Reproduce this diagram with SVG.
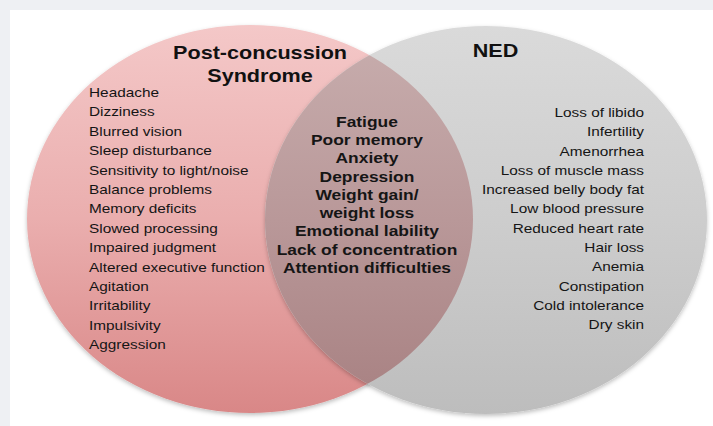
<svg xmlns="http://www.w3.org/2000/svg" width="713" height="426" viewBox="0 0 713 426">
<defs>
<linearGradient id="gPink" x1="0" y1="0" x2="0" y2="1">
<stop offset="0" stop-color="#f4c8c8"/>
<stop offset="0.5" stop-color="#eaaeae"/>
<stop offset="1" stop-color="#d98787"/>
</linearGradient>
<linearGradient id="gGray" x1="0" y1="0" x2="0" y2="1">
<stop offset="0" stop-color="#dadada"/>
<stop offset="0.5" stop-color="#cdcdcd"/>
<stop offset="1" stop-color="#bdbdbd"/>
</linearGradient>
<linearGradient id="gMix" x1="0" y1="0" x2="0" y2="1">
<stop offset="0" stop-color="#c8aeae"/>
<stop offset="0.5" stop-color="#b99899"/>
<stop offset="1" stop-color="#a78081"/>
</linearGradient>
<clipPath id="clipLeft">
<ellipse cx="250" cy="219" rx="223" ry="194"/>
</clipPath>
<filter id="shadow" x="-10%" y="-10%" width="120%" height="120%">
<feDropShadow dx="0" dy="2" stdDeviation="2" flood-color="#000" flood-opacity="0.25"/>
</filter>
</defs>
<style>
.list{font-family:"Liberation Sans",Arial,sans-serif;font-size:12.8px;fill:#151515}
.mid{font-family:"Liberation Sans",Arial,sans-serif;font-size:14.5px;font-weight:bold;fill:#151515;text-anchor:middle}
.title{font-family:"Liberation Sans",Arial,sans-serif;font-size:18px;font-weight:bold;fill:#111;text-anchor:middle}
.rt{text-anchor:end}
</style>
<rect x="0" y="0" width="713" height="426" fill="#eef0f3"/>
<rect x="10" y="10" width="703" height="416" fill="#ffffff"/>

<g id="pcs">
<ellipse cx="250" cy="219" rx="223" ry="194" fill="url(#gPink)" filter="url(#shadow)"/>
<g transform="scale(1.2,1)">
<text class="title" x="216.7" y="59">Post-concussion</text>
<text class="title" x="216.7" y="82">Syndrome</text>
<text class="list" x="74.2" y="97">Headache</text>
<text class="list" x="74.2" y="116.4">Dizziness</text>
<text class="list" x="74.2" y="135.8">Blurred vision</text>
<text class="list" x="74.2" y="155.2">Sleep disturbance</text>
<text class="list" x="74.2" y="174.6">Sensitivity to light/noise</text>
<text class="list" x="74.2" y="194">Balance problems</text>
<text class="list" x="74.2" y="213.4">Memory deficits</text>
<text class="list" x="74.2" y="232.8">Slowed processing</text>
<text class="list" x="74.2" y="252.2">Impaired judgment</text>
<text class="list" x="74.2" y="271.6">Altered executive function</text>
<text class="list" x="74.2" y="291">Agitation</text>
<text class="list" x="74.2" y="310.4">Irritability</text>
<text class="list" x="74.2" y="329.8">Impulsivity</text>
<text class="list" x="74.2" y="349.2">Aggression</text>
</g>
</g>

<g id="ned">
<ellipse cx="486" cy="220" rx="221" ry="194" fill="url(#gGray)" filter="url(#shadow)"/>
<g transform="scale(1.2,1)">
<text class="title" x="412.9" y="57">NED</text>
<text class="list rt" x="536.7" y="117">Loss of libido</text>
<text class="list rt" x="536.7" y="136.3">Infertility</text>
<text class="list rt" x="536.7" y="155.6">Amenorrhea</text>
<text class="list rt" x="536.7" y="174.9">Loss of muscle mass</text>
<text class="list rt" x="536.7" y="194.2">Increased belly body fat</text>
<text class="list rt" x="536.7" y="213.5">Low blood pressure</text>
<text class="list rt" x="536.7" y="232.8">Reduced heart rate</text>
<text class="list rt" x="536.7" y="252.1">Hair loss</text>
<text class="list rt" x="536.7" y="271.4">Anemia</text>
<text class="list rt" x="536.7" y="290.7">Constipation</text>
<text class="list rt" x="536.7" y="310">Cold intolerance</text>
<text class="list rt" x="536.7" y="329.3">Dry skin</text>
</g>
</g>

<g id="overlap">
<ellipse cx="486" cy="220" rx="221" ry="194" fill="url(#gMix)" clip-path="url(#clipLeft)"/>
<g transform="scale(1.2,1)">
<text class="mid" x="305.8" y="126.7">Fatigue</text>
<text class="mid" x="305.8" y="145">Poor memory</text>
<text class="mid" x="305.8" y="163.3">Anxiety</text>
<text class="mid" x="305.8" y="181.6">Depression</text>
<text class="mid" x="305.8" y="199.9">Weight gain/</text>
<text class="mid" x="305.8" y="218.2">weight loss</text>
<text class="mid" x="305.8" y="236.5">Emotional lability</text>
<text class="mid" x="305.8" y="254.8">Lack of concentration</text>
<text class="mid" x="305.8" y="273.1">Attention difficulties</text>
</g>
</g>
</svg>
